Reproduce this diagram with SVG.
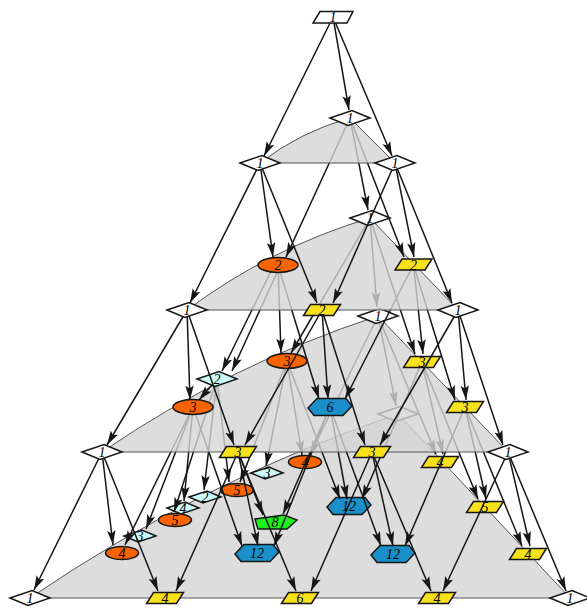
<svg xmlns="http://www.w3.org/2000/svg" xmlns:xlink="http://www.w3.org/1999/xlink" width="587" height="610" viewBox="0 0 587 610">
<style>
.tri{fill:#d4d4d4;fill-opacity:0.8;stroke:#555;stroke-width:1}
.edges path{stroke:#161616;stroke-width:1.5;fill:none;marker-end:url(#ah)}
.w{fill:#fff}.y{fill:#f6e11c}.o{fill:#fa6400}.c{fill:#cbfafa}.b{fill:#1a8fca}.g{fill:#1ef01e}
text{font-family:"Liberation Serif",serif;font-style:italic;font-size:14px;text-anchor:middle;fill:#000}
</style>
<defs>
<marker id="ah" markerUnits="userSpaceOnUse" markerWidth="15" markerHeight="10" viewBox="0 0 15 10" refX="14.5" refY="5" orient="auto"><path d="M0,0.8 L14.5,5 L0,9.2 L3,5 Z" fill="#161616"/></marker>
<polygon id="dia" points="-20,0 2,-7.5 20,0 -2,7.5" stroke="#161616" stroke-width="1.5"/>
<polygon id="dias" points="-16,0 2,-6 16,0 -2,6" stroke="#161616" stroke-width="1.5"/>
<polygon id="par" points="-11.5,-5.5 18.5,-5.5 11.5,5.5 -18.5,5.5" stroke="#161616" stroke-width="1.5"/>
<polygon id="ptop" points="-13,-5.75 20,-5.75 14,5.75 -20,5.75" stroke="#161616" stroke-width="1.5"/>
<ellipse id="ell" rx="20" ry="7.5" stroke="#161616" stroke-width="1.5"/>
<ellipse id="ells" rx="16.5" ry="6.5" stroke="#161616" stroke-width="1.5"/>
<polygon id="hex" points="-22,1 -13,-8.5 16,-8.5 22,-1 13,8.5 -16,8.5" stroke="#161616" stroke-width="1.5"/>
<polygon id="pent" points="-20,-3 9,-7 22,-2 12,7 -17,7" stroke="#161616" stroke-width="1.5"/>
</defs>

<!-- level 4 -->
<path class="tri" d="M30,598 Q201.5,481 398,414 L570,598 Z"/>
<g id="n-E0" transform="translate(398,414)"><use href="#dia" class="w"/></g>
<g id="n-E1" transform="translate(305,462)"><use href="#ells" class="o"/><text y="5">4</text></g>
<g id="n-E2" transform="translate(440,462)"><use href="#par" class="y"/><text y="5">4</text></g>
<g id="n-Ec1" transform="translate(267,473)"><use href="#dias" class="c"/><text y="5">3</text></g>
<g id="n-E3" transform="translate(237,490)"><use href="#ells" class="o"/><text y="5">5</text></g>
<g id="n-Ec2" transform="translate(205,497)"><use href="#dias" class="c"/><text y="5">2</text></g>
<g id="n-Ec3" transform="translate(183,508)"><use href="#dias" class="c"/><text y="5">4</text></g>
<g id="n-E4" transform="translate(175,520)"><use href="#ells" class="o"/><text y="5">5</text></g>
<g id="n-E5" transform="translate(275,522)"><use href="#pent" class="g"/><text y="5">8</text></g>
<g id="n-E6" transform="translate(349,506)"><use href="#hex" class="b"/><text y="5">12</text></g>
<g id="n-E7" transform="translate(485,507)"><use href="#par" class="y"/><text y="5">5</text></g>
<g id="n-Ec4" transform="translate(140,536)"><use href="#dias" class="c"/><text y="5">3</text></g>
<g id="n-E8" transform="translate(122,553)"><use href="#ells" class="o"/><text y="5">4</text></g>
<g id="n-E9" transform="translate(257,553)"><use href="#hex" class="b"/><text y="5">12</text></g>
<g id="n-E10" transform="translate(393,554)"><use href="#hex" class="b"/><text y="5">12</text></g>
<g id="n-E11" transform="translate(528,554)"><use href="#par" class="y"/><text y="5">4</text></g>
<g id="n-E12" transform="translate(30,598)"><use href="#dia" class="w"/><text y="5">1</text></g>
<g id="n-E13" transform="translate(165,598)"><use href="#par" class="y"/><text y="5">4</text></g>
<g id="n-E14" transform="translate(300,598)"><use href="#par" class="y"/><text y="5">6</text></g>
<g id="n-E15" transform="translate(437,598)"><use href="#par" class="y"/><text y="5">4</text></g>
<g id="n-E16" transform="translate(570,598)"><use href="#dia" class="w"/><text y="5">1</text></g>

<g id="edges-3-4" class="edges">
<path d="M378,316 L396,406"/><path d="M378,316 L310,455"/><path d="M378,316 L436,454"/>
<path d="M287,361 L302,455"/><path d="M287,361 L340,499"/><path d="M287,361 L266,466"/><path d="M287,361 L240,482"/>
<path d="M422,362 L443,454"/><path d="M422,362 L362,499"/><path d="M422,362 L478,499"/>
<path d="M193,407 L125,545"/><path d="M193,407 L242,546"/><path d="M193,407 L184,501"/><path d="M193,407 L146,529"/>
<path d="M217,379 L229,482"/><path d="M217,379 L204,490"/><path d="M217,379 L174,512"/>
<path d="M330,407 L347,499"/><path d="M330,407 L274,546"/><path d="M330,407 L381,546"/><path d="M330,407 L283,514"/>
<path d="M465,407 L486,499"/><path d="M465,407 L405,546"/><path d="M465,407 L522,546"/>
<path d="M102,452 L113,545"/><path d="M102,452 L34,590"/><path d="M102,452 L158,591"/>
<path d="M238,452 L258,546"/><path d="M238,452 L176,591"/><path d="M238,452 L296,591"/><path d="M238,452 L263,515"/>
<path d="M372,452 L393,546"/><path d="M372,452 L311,591"/><path d="M372,452 L431,591"/>
<path d="M508,452 L530,546"/><path d="M508,452 L443,591"/><path d="M508,452 L566,591"/>
</g>

<!-- level 3 -->
<path class="tri" d="M102,452 Q230.3,364.3 378,316 L508,452 Z"/>
<g id="edges-3-3" class="edges"><path d="M217,379 L199,400"/></g>
<g id="n-D0" transform="translate(378,316)"><use href="#dia" class="w"/><text y="5">1</text></g>
<g id="n-D1" transform="translate(287,361)"><use href="#ell" class="o"/><text y="5">3</text></g>
<g id="n-D2" transform="translate(422,362)"><use href="#par" class="y"/><text y="5">3</text></g>
<g id="n-Dc" transform="translate(217,379)"><use href="#dia" class="c"/><text y="5">2</text></g>
<g id="n-D3" transform="translate(193,407)"><use href="#ell" class="o"/><text y="5">3</text></g>
<g id="n-D4" transform="translate(330,407)"><use href="#hex" class="b"/><text y="5">6</text></g>
<g id="n-D5" transform="translate(465,407)"><use href="#par" class="y"/><text y="5">3</text></g>
<g id="n-D6" transform="translate(102,452)"><use href="#dia" class="w"/><text y="5">1</text></g>
<g id="n-D7" transform="translate(238,452)"><use href="#par" class="y"/><text y="5">3</text></g>
<g id="n-D8" transform="translate(372,452)"><use href="#par" class="y"/><text y="5">3</text></g>
<g id="n-D9" transform="translate(508,452)"><use href="#dia" class="w"/><text y="5">1</text></g>

<g id="edges-2-3" class="edges">
<path d="M370,218 L377,307"/><path d="M370,218 L291,353"/><path d="M370,218 L415,354"/>
<path d="M278,265 L281,353"/><path d="M273,267 L222,371"/><path d="M280,266 L232,371"/><path d="M278,265 L319,399"/>
<path d="M413.5,264.5 L423,354"/><path d="M413.5,264.5 L345,399"/><path d="M413.5,264.5 L455,400"/>
<path d="M187,310 L190,400"/><path d="M187,310 L107,445"/><path d="M187,310 L234,445"/>
<path d="M322,310 L328,399"/><path d="M322,310 L245,445"/><path d="M322,310 L365,445"/>
<path d="M458,310 L466,400"/><path d="M458,310 L380,445"/><path d="M458,310 L503,445"/>
</g>

<!-- level 2 -->
<path class="tri" d="M187,310 Q270.4,247.9 370,218 L458,310 Z"/>
<g id="n-C0" transform="translate(370,218)"><use href="#dia" class="w"/><text y="5">1</text></g>
<g id="n-C1" transform="translate(278,265)"><use href="#ell" class="o"/><text y="5">2</text></g>
<g id="n-C2" transform="translate(413.5,264.5)"><use href="#par" class="y"/><text y="5">2</text></g>
<g id="n-C3" transform="translate(187,310)"><use href="#dia" class="w"/><text y="5">1</text></g>
<g id="n-C4" transform="translate(322,310)"><use href="#par" class="y"/><text y="5">2</text></g>
<g id="n-C5" transform="translate(458,310)"><use href="#dia" class="w"/><text y="5">1</text></g>

<g id="edges-1-2" class="edges">
<path d="M350,118 L368,210"/><path d="M350,118 L286,257"/><path d="M350,118 L404,257"/>
<path d="M260,163 L273,257"/><path d="M260,163 L190,303"/><path d="M260,163 L317,303"/>
<path d="M395,163 L414,257"/><path d="M395,163 L333,303"/><path d="M395,163 L452,303"/>
</g>

<!-- level 1 -->
<path class="tri" d="M260,163 Q300.5,131.6 350,118 L395,163 Z"/>
<g id="n-B0" transform="translate(350,118)"><use href="#dia" class="w"/><text y="5">1</text></g>
<g id="n-B1" transform="translate(260,163)"><use href="#dia" class="w"/><text y="5">1</text></g>
<g id="n-B2" transform="translate(395,163)"><use href="#dia" class="w"/><text y="5">1</text></g>

<g id="edges-0-1" class="edges">
<path d="M333,17 L264,156"/><path d="M333,17 L349,110"/><path d="M333,17 L392,156"/>
</g>
<g id="n-A0" transform="translate(333,17.3)"><use href="#ptop" class="w"/><text y="5">1</text></g>
</svg>
